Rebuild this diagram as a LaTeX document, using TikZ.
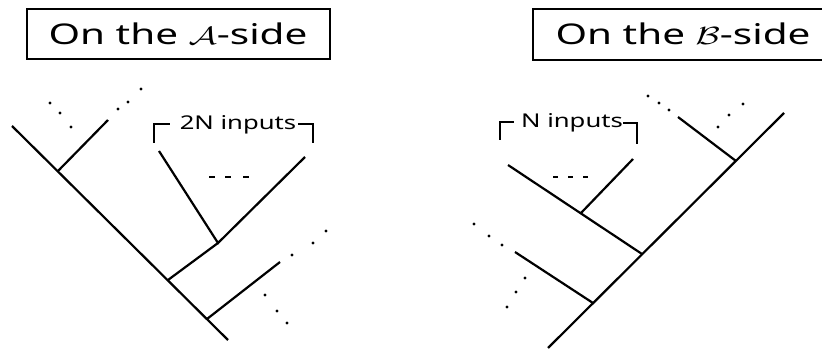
\documentclass[tikz,border=0pt]{standalone}
\usepackage{fontspec}
\setmainfont{Noto Sans}
\begin{document}
\begin{tikzpicture}[x=1pt,y=-1pt,
  stroke/.style={line width=2.2pt},
  frame/.style={line width=2.2pt},
  dotm/.style={circle,fill=black,inner sep=0pt,minimum size=3.4pt},
  dashm/.style={line width=2pt},
  title/.style={font=\fontsize{28.5}{31}\selectfont,inner sep=0pt,xscale=1.42},
  lbl/.style={font=\fontsize{19}{22}\selectfont,inner sep=0pt,xscale=1.35}]
\useasboundingbox (0,0) rectangle (822,350);
% ---------- A side ----------
\draw[frame] (27,9) rectangle (330,59);
\node[title] (tA) at (178,34) {On the $\mathcal{A}$-side};
\coordinate (a1) at (12,126);
\coordinate (a2) at (228,340);
\coordinate (j1) at (58,171);
\coordinate (e1) at (108,120);
\coordinate (j2) at (168,280);
\coordinate (j3) at (218,243);
\coordinate (e3l) at (159,151);
\coordinate (e3r) at (305,157);
\coordinate (j4) at (207,319);
\coordinate (e4) at (280,262);
\draw[stroke] (a1) -- (a2);
\draw[stroke] (j1) -- (e1);
\draw[stroke] (j2) -- (j3);
\draw[stroke] (e3l) -- (j3) -- (e3r);
\draw[stroke] (j4) -- (e4);
% brackets
\coordinate (bl1) at (154,143); \coordinate (bl2) at (154,124); \coordinate (bl3) at (170,124);
\coordinate (br1) at (298,124); \coordinate (br2) at (313,124); \coordinate (br3) at (313,143);
\draw[stroke] (bl1) -- (bl2) -- (bl3);
\draw[stroke] (br1) -- (br2) -- (br3);
\node[lbl] (lA) at (238,125) {2N inputs};
% dashes
\foreach \x in {209,225,243} \draw[dashm] (\x,177) -- (\x+6,177);
% dots
\foreach \p in {(50,103),(60,113),(71,127),(118,109),(128,102),(141,89),(292,255),(313,243),(326,231),(265,295),(277,311),(287,323)}
  \node[dotm] at \p {};
% ---------- B side ----------
\draw[frame] (830,9) -- (533,9) -- (533,60) -- (830,60);
\node[title] (tB) at (683,34) {On the $\mathcal{B}$-side};
\coordinate (b1) at (548,348);
\coordinate (b2) at (784,113);
\coordinate (k1) at (736,161);
\coordinate (f1) at (678,117);
\coordinate (k2) at (642,254);
\coordinate (f2) at (508,165);
\coordinate (k3) at (581,213);
\coordinate (f3) at (633,159);
\coordinate (k4) at (593,303);
\coordinate (f4) at (515,252);
\draw[stroke] (b1) -- (b2);
\draw[stroke] (k1) -- (f1);
\draw[stroke] (k2) -- (f2);
\draw[stroke] (k3) -- (f3);
\draw[stroke] (k4) -- (f4);
\coordinate (cl1) at (500,140); \coordinate (cl2) at (500,122); \coordinate (cl3) at (514,122);
\coordinate (cr1) at (623,123); \coordinate (cr2) at (637,123); \coordinate (cr3) at (637,144);
\draw[stroke] (cl1) -- (cl2) -- (cl3);
\draw[stroke] (cr1) -- (cr2) -- (cr3);
\node[lbl] (lB) at (572,123) {N inputs};
\foreach \x in {553,568,583} \draw[dashm] (\x,177) -- (\x+5,177);
\foreach \p in {(648,96),(659,103),(669,110),(718,127),(729,115),(743,104),(474,224),(489,236),(502,245),(525,278),(516,292),(507,307)}
  \node[dotm] at \p {};
\end{tikzpicture}
\end{document}
